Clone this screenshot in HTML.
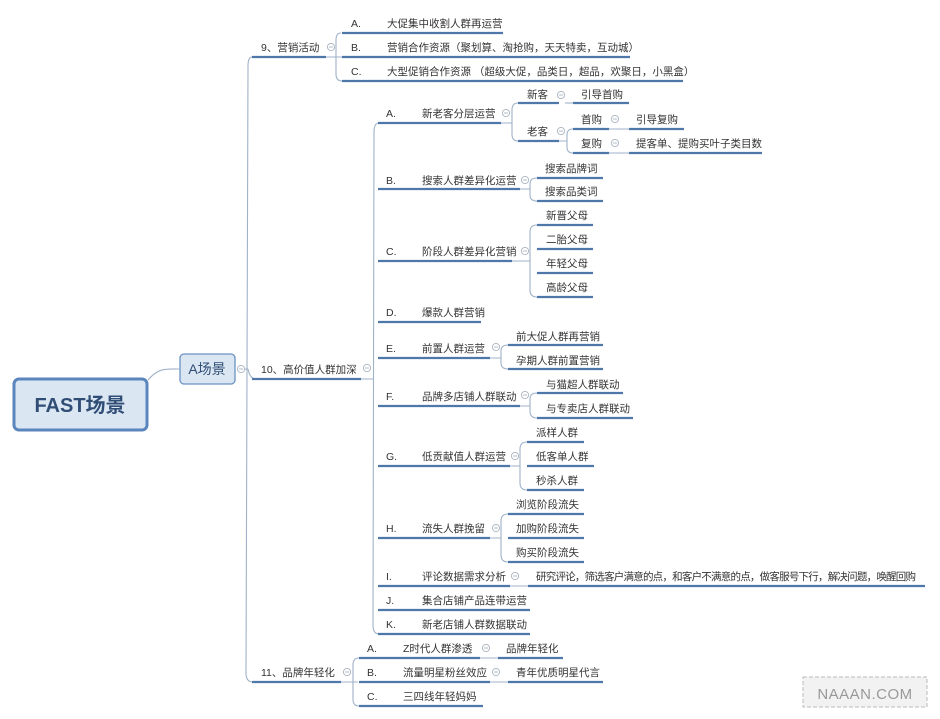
<!DOCTYPE html>
<html><head><meta charset="utf-8"><style>
html,body{margin:0;padding:0;background:#fff;width:940px;height:719px;overflow:hidden}
svg text{font-family:"Liberation Sans","Noto Sans CJK SC",sans-serif;font-size:10.5px;fill:#333}
.u{stroke:#4f78aa;stroke-width:2.2;fill:none}
.b{stroke:#9fb2c8;stroke-width:1.1;fill:none}
.c{stroke:#a9b4c0;stroke-width:0.9;fill:#fff}
</style></head><body>
<svg width="940" height="719" viewBox="0 0 940 719" xmlns="http://www.w3.org/2000/svg">
<defs>
<g id="cc"><circle r="3.6" class="c"/><line x1="-2" x2="2" y1="0" y2="0" stroke="#a9b4c0" stroke-width="0.9"/></g>
</defs>
<!-- root -->
<path class="b" d="M148,380 C158,368 165,369 179,369"/>
<rect x="14" y="379" width="133" height="51" rx="5" fill="#dbe6f3" stroke="#5a86bd" stroke-width="3"/>
<text x="80" y="412" text-anchor="middle" style="font-size:20px;font-weight:bold;fill:#2f4d75">FAST场景</text>
<rect x="180" y="354" width="55" height="30" rx="4" fill="#dbe6f3" stroke="#6a92c2" stroke-width="1.3"/>
<text x="207" y="374" text-anchor="middle" style="font-size:14px;fill:#2f4d75">A场景</text>
<use href="#cc" x="241" y="369"/>
<!-- main trunk -->
<path class="b" d="M245,369 L248,369 M252,57 Q248,57 248,66 L246,673 Q246,682 253,682"/>
<path class="b" d="M248,369 Q250,379 256,379"/>
<!-- 9 -->
<line class="u" x1="252" y1="57" x2="326" y2="57"/>
<text x="261" y="51">9、营销活动</text>
<use href="#cc" x="331" y="47"/>
<path class="b" d="M326,57 L343,57 M341,33 Q336,33 336,40 L336,74 Q336,81 342,81"/>
<line class="u" x1="342" y1="33" x2="503" y2="33"/><text x="351" y="27">A.</text><text x="387" y="27">大促集中收割人群再运营</text>
<line class="u" x1="342" y1="57" x2="630" y2="57"/><text x="351" y="51">B.</text><text x="387" y="51">营销合作资源（聚划算、淘抢购，天天特卖，互动城）</text>
<line class="u" x1="342" y1="81" x2="683" y2="81"/><text x="351" y="75">C.</text><text x="387" y="75">大型促销合作资源 （超级大促，品类日，超品，欢聚日，小黑盒）</text>
<!-- 10 -->
<line class="u" x1="252" y1="379" x2="361" y2="379"/>
<text x="261" y="373">10、高价值人群加深</text>
<use href="#cc" x="367" y="368"/>
<path class="b" d="M361,379 L373,379 M379,123 Q374,123 374,132 L373,625 Q373,634 379,634"/>
<line class="u" x1="378" y1="123" x2="501" y2="123"/><text x="386" y="117">A.</text><text x="422" y="117">新老客分层运营</text><use href="#cc" x="506" y="113"/>
<line class="u" x1="378" y1="189" x2="520" y2="189"/><text x="386" y="184">B.</text><text x="422" y="184">搜索人群差异化运营</text><use href="#cc" x="525" y="180"/>
<line class="u" x1="378" y1="261" x2="512" y2="261"/><text x="386" y="255">C.</text><text x="422" y="255">阶段人群差异化营销</text><use href="#cc" x="525" y="251"/>
<line class="u" x1="378" y1="322" x2="481" y2="322"/><text x="386" y="316">D.</text><text x="422" y="316">爆款人群营销</text>
<line class="u" x1="378" y1="358" x2="490" y2="358"/><text x="386" y="352">E.</text><text x="422" y="352">前置人群运营</text><use href="#cc" x="496" y="347"/>
<line class="u" x1="378" y1="406" x2="520" y2="406"/><text x="386" y="400">F.</text><text x="422" y="400">品牌多店铺人群联动</text><use href="#cc" x="525" y="395"/>
<line class="u" x1="378" y1="466" x2="510" y2="466"/><text x="386" y="460">G.</text><text x="422" y="460">低贡献值人群运营</text><use href="#cc" x="515" y="456"/>
<line class="u" x1="378" y1="538" x2="490" y2="538"/><text x="386" y="532">H.</text><text x="422" y="532">流失人群挽留</text><use href="#cc" x="496" y="528"/>
<line class="u" x1="378" y1="586" x2="510" y2="586"/><text x="386" y="580">I.</text><text x="422" y="580">评论数据需求分析</text><use href="#cc" x="515" y="576"/>
<line class="u" x1="378" y1="610" x2="530" y2="610"/><text x="386" y="604">J.</text><text x="422" y="604">集合店铺产品连带运营</text>
<line class="u" x1="378" y1="634" x2="530" y2="634"/><text x="386" y="628">K.</text><text x="422" y="628">新老店铺人群数据联动</text>
<!-- A children -->
<path class="b" d="M501,123 L512,123 M518,103 Q512,103 512,110 L512,134 Q512,141 518,141"/>
<line class="u" x1="518" y1="103" x2="559" y2="103"/><text x="527" y="98">新客</text><use href="#cc" x="561" y="95"/>
<line class="b" x1="565" y1="103" x2="573" y2="103"/>
<line class="u" x1="573" y1="103" x2="629" y2="103"/><text x="581" y="98">引导首购</text>
<line class="u" x1="518" y1="141" x2="559" y2="141"/><text x="527" y="135">老客</text><use href="#cc" x="561" y="131"/>
<path class="b" d="M559,141 L567,141 M573,129 Q567,129 567,135 L567,147 Q567,153 573,153"/>
<line class="u" x1="573" y1="129" x2="609" y2="129"/><text x="581" y="123">首购</text><use href="#cc" x="615" y="119"/>
<line class="b" x1="609" y1="129" x2="629" y2="129"/>
<line class="u" x1="629" y1="129" x2="684" y2="129"/><text x="636" y="123">引导复购</text>
<line class="u" x1="573" y1="153" x2="609" y2="153"/><text x="581" y="147">复购</text><use href="#cc" x="615" y="143"/>
<line class="b" x1="609" y1="153" x2="629" y2="153"/>
<line class="u" x1="629" y1="153" x2="762" y2="153"/><text x="636" y="147">提客单、提购买叶子类目数</text>
<!-- B children -->
<path class="b" d="M520,189 L530,189 M537,178 Q530,178 530,184 L530,195 Q530,201 537,201"/>
<line class="u" x1="537" y1="178" x2="603" y2="178"/><text x="545" y="172">搜索品牌词</text>
<line class="u" x1="537" y1="201" x2="603" y2="201"/><text x="545" y="195">搜索品类词</text>
<!-- C children -->
<path class="b" d="M512,261 L530,261 M537,225 Q530,225 530,232 L530,290 Q530,297 537,297"/>
<line class="u" x1="537" y1="225" x2="593" y2="225"/><text x="546" y="219">新晋父母</text>
<line class="u" x1="537" y1="249" x2="593" y2="249"/><text x="546" y="243">二胎父母</text>
<line class="u" x1="537" y1="273" x2="593" y2="273"/><text x="546" y="267">年轻父母</text>
<line class="u" x1="537" y1="297" x2="593" y2="297"/><text x="546" y="291">高龄父母</text>
<!-- E children -->
<path class="b" d="M490,358 L501,358 M508,345 Q501,345 501,351 L501,363 Q501,369 508,369"/>
<line class="u" x1="508" y1="345" x2="603" y2="345"/><text x="516" y="340">前大促人群再营销</text>
<line class="u" x1="508" y1="369" x2="603" y2="369"/><text x="516" y="364">孕期人群前置营销</text>
<!-- F children -->
<path class="b" d="M520,406 L530,406 M537,393 Q530,393 530,399 L530,411 Q530,418 537,418"/>
<line class="u" x1="537" y1="393" x2="623" y2="393"/><text x="546" y="388">与猫超人群联动</text>
<line class="u" x1="537" y1="418" x2="633" y2="418"/><text x="546" y="412">与专卖店人群联动</text>
<!-- G children -->
<path class="b" d="M510,466 L520,466 M527,442 Q520,442 520,449 L520,483 Q520,490 527,490"/>
<line class="u" x1="527" y1="442" x2="584" y2="442"/><text x="536" y="436">派样人群</text>
<line class="u" x1="527" y1="466" x2="594" y2="466"/><text x="536" y="460">低客单人群</text>
<line class="u" x1="527" y1="490" x2="584" y2="490"/><text x="536" y="484">秒杀人群</text>
<!-- H children -->
<path class="b" d="M490,538 L501,538 M508,514 Q501,514 501,521 L501,555 Q501,562 508,562"/>
<line class="u" x1="508" y1="514" x2="584" y2="514"/><text x="516" y="508">浏览阶段流失</text>
<line class="u" x1="508" y1="538" x2="584" y2="538"/><text x="516" y="532">加购阶段流失</text>
<line class="u" x1="508" y1="562" x2="584" y2="562"/><text x="516" y="556">购买阶段流失</text>
<!-- I child -->
<line class="b" x1="510" y1="586" x2="528" y2="586"/>
<line class="u" x1="528" y1="586" x2="925" y2="586"/><text x="536" y="580" textLength="380">研究评论，筛选客户满意的点，和客户不满意的点，做客服号下行，解决问题，唤醒回购</text>
<!-- 11 -->
<line class="u" x1="252" y1="682" x2="341" y2="682"/>
<text x="261" y="676">11、品牌年轻化</text>
<use href="#cc" x="347" y="672"/>
<path class="b" d="M341,682 L358,682 M359,658 Q353,658 353,665 L353,699 Q353,706 359,706"/>
<line class="u" x1="359" y1="658" x2="480" y2="658"/><text x="367" y="652">A.</text><text x="403" y="652">Z时代人群渗透</text><use href="#cc" x="486" y="648"/>
<line class="b" x1="480" y1="658" x2="498" y2="658"/>
<line class="u" x1="498" y1="658" x2="563" y2="658"/><text x="506" y="652">品牌年轻化</text>
<line class="u" x1="359" y1="682" x2="490" y2="682"/><text x="367" y="676">B.</text><text x="403" y="676">流量明星粉丝效应</text><use href="#cc" x="496" y="672"/>
<line class="b" x1="490" y1="682" x2="508" y2="682"/>
<line class="u" x1="508" y1="682" x2="603" y2="682"/><text x="516" y="676">青年优质明星代言</text>
<line class="u" x1="359" y1="706" x2="483" y2="706"/><text x="367" y="700">C.</text><text x="403" y="700">三四线年轻妈妈</text>
<!-- watermark -->
<rect x="803" y="677" width="124" height="30" fill="#f2f2f2" stroke="#bbb" stroke-width="1" stroke-dasharray="4,2"/>
<text x="865" y="699" text-anchor="middle" style="font-size:15px;fill:#999;letter-spacing:0.5px">NAAAN.COM</text>
</svg>
</body></html>
